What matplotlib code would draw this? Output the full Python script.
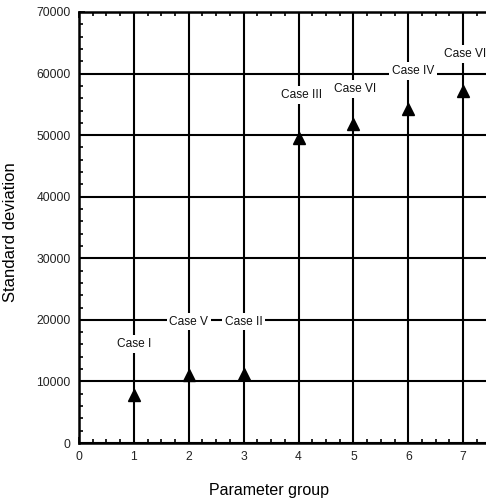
import numpy as np
import matplotlib.pyplot as plt
from matplotlib.ticker import MultipleLocator

plt.rcParams['font.family'] = ['Liberation Sans', 'DejaVu Sans']

# data
groups = [1, 2, 3, 4, 5, 6, 7]
std_dev = [7800, 11000, 11200, 49500, 51800, 54200, 57100]
case_names = ['Case I', 'Case V', 'Case II', 'Case III', 'Case VI', 'Case IV', 'Case VII']
label_x = [1.0, 2.0, 3.0, 4.05, 5.03, 6.08, 7.06]
label_y = [16100, 19700, 19700, 56500, 57500, 60400, 63200]
x_ticks = [0, 1, 2, 3, 4, 5, 6, 7]

fig = plt.figure(figsize=(4.86, 4.98), dpi=100)
# axes run past the right edge of the figure, as in the original
ax = fig.add_axes([79 / 486, 55 / 498, 439 / 486, 431 / 498])

ax.set_xlim(0, 8)
ax.set_ylim(0, 70000)
ax.set_xticks(x_ticks)
ax.xaxis.set_minor_locator(MultipleLocator(0.25))
ax.yaxis.set_major_locator(MultipleLocator(10000))
ax.yaxis.set_minor_locator(MultipleLocator(2000))
ax.grid(True, which='major', color='black', linewidth=1.5)
ax.tick_params(which='both', direction='in', top=True, right=True, labelsize=8.7,
               labelcolor='#222222', width=1.2)
ax.tick_params(which='major', length=4, pad=6)
ax.tick_params(which='minor', length=3)
for s in ax.spines.values():
    s.set_linewidth(1.8)

ax.plot(groups, std_dev, linestyle='none', marker='^', markersize=9, color='black', zorder=4)

for cx, cy, name in zip(label_x, label_y, case_names):
    ax.text(cx, cy, name, ha='center', va='center', fontsize=8.6, color='#111111', zorder=5,
            bbox=dict(facecolor='white', edgecolor='none', pad=2))

ax.set_xlabel('Parameter group', fontsize=11.5)
ax.set_ylabel('Standard deviation', fontsize=12)
ax.xaxis.set_label_coords(190 / 439, -40 / 431)
ax.yaxis.set_label_coords(-61 / 439, 0.49)

fig.savefig('out.png', dpi=100)
